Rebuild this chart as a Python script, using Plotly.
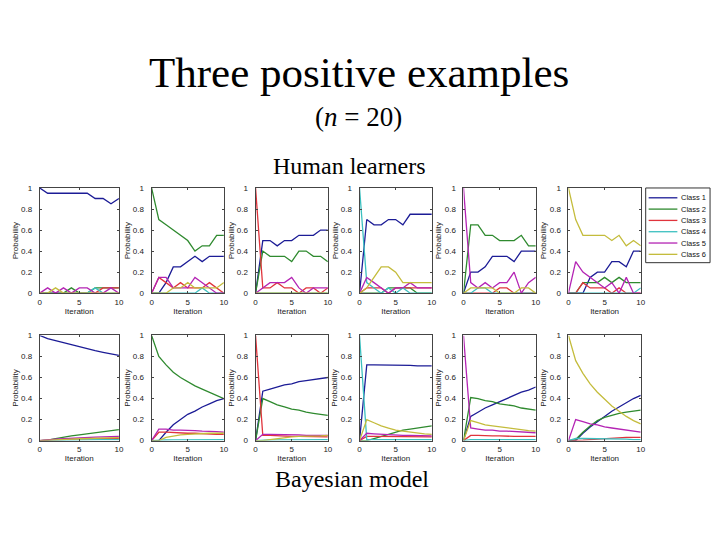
import plotly.graph_objects as go

iterations = list(range(11))
class_names = ["Class 1", "Class 2", "Class 3", "Class 4", "Class 5", "Class 6"]
class_colors = ["#1c1c96", "#2f8a2f", "#e0343c", "#3cc0c0", "#b424b4", "#c4bc3c"]

# Human learners (rows: Class 1..6)
human_1 = [
    [1, 0.95, 0.95, 0.95, 0.95, 0.95, 0.95, 0.9, 0.9, 0.85, 0.9],
    [0, 0, 0, 0, 0.05, 0, 0, 0.05, 0.05, 0.05, 0.05],
    [0, 0, 0, 0, 0, 0, 0, 0, 0.05, 0.05, 0.05],
    [0, 0, 0, 0, 0, 0, 0, 0.05, 0, 0, 0],
    [0, 0.05, 0, 0.05, 0, 0.05, 0.05, 0, 0, 0.05, 0],
    [0, 0, 0.05, 0, 0, 0, 0, 0, 0, 0, 0],
]
human_2 = [
    [0, 0, 0.1, 0.25, 0.25, 0.3, 0.35, 0.3, 0.35, 0.35, 0.35],
    [1, 0.7, 0.65, 0.6, 0.55, 0.5, 0.4, 0.45, 0.45, 0.55, 0.55],
    [0, 0.15, 0.1, 0.05, 0.1, 0.05, 0.05, 0.05, 0.1, 0.05, 0],
    [0, 0, 0, 0, 0, 0, 0, 0.05, 0, 0, 0],
    [0, 0.15, 0.15, 0.05, 0.05, 0.05, 0.15, 0.1, 0.05, 0, 0],
    [0, 0, 0, 0.05, 0.05, 0.1, 0.05, 0.05, 0.05, 0.05, 0.1],
]
human_3 = [
    [0, 0.5, 0.5, 0.45, 0.5, 0.5, 0.55, 0.55, 0.55, 0.6, 0.6],
    [0, 0.4, 0.35, 0.35, 0.35, 0.3, 0.4, 0.4, 0.35, 0.35, 0.3],
    [1, 0.05, 0.05, 0.1, 0.05, 0.05, 0, 0.05, 0.05, 0, 0.05],
    [0, 0, 0, 0, 0, 0, 0, 0, 0, 0, 0],
    [0, 0.05, 0.1, 0.1, 0.1, 0.15, 0.05, 0, 0.05, 0.05, 0.05],
    [0, 0, 0, 0, 0, 0, 0, 0, 0, 0, 0],
]
human_4 = [
    [0, 0.7, 0.65, 0.65, 0.7, 0.7, 0.65, 0.75, 0.75, 0.75, 0.75],
    [0, 0, 0, 0, 0.05, 0.05, 0.05, 0.05, 0, 0, 0],
    [0, 0.05, 0.05, 0.05, 0, 0.05, 0.05, 0.05, 0.05, 0.05, 0.05],
    [1, 0.1, 0.05, 0, 0.05, 0, 0.05, 0, 0, 0, 0],
    [0, 0.15, 0.1, 0.05, 0, 0.05, 0.05, 0.1, 0.05, 0.05, 0.05],
    [0, 0.05, 0.15, 0.25, 0.25, 0.2, 0.1, 0.1, 0.1, 0.1, 0.1],
]
human_5 = [
    [0, 0.2, 0.2, 0.25, 0.35, 0.35, 0.35, 0.3, 0.4, 0.4, 0.4],
    [0, 0.65, 0.65, 0.55, 0.55, 0.5, 0.5, 0.5, 0.55, 0.45, 0.45],
    [0, 0, 0, 0, 0, 0.05, 0.05, 0, 0, 0, 0],
    [0, 0, 0.05, 0.05, 0, 0, 0, 0, 0, 0, 0],
    [1, 0.1, 0.05, 0.1, 0.05, 0.1, 0.1, 0.2, 0, 0.1, 0.15],
    [0, 0.05, 0.05, 0.05, 0.05, 0, 0, 0, 0.05, 0.05, 0],
]
human_6 = [
    [0, 0, 0, 0.15, 0.2, 0.2, 0.3, 0.3, 0.25, 0.4, 0.4],
    [0, 0, 0.1, 0.1, 0.1, 0.15, 0.1, 0.15, 0.1, 0.1, 0.1],
    [0, 0, 0.1, 0.05, 0.05, 0.05, 0, 0.05, 0, 0, 0],
    [0, 0, 0, 0, 0, 0, 0, 0, 0, 0, 0.05],
    [0, 0.3, 0.2, 0.15, 0.1, 0.05, 0.1, 0, 0.15, 0, 0],
    [1, 0.7, 0.55, 0.55, 0.55, 0.55, 0.5, 0.55, 0.45, 0.5, 0.45],
]

# Bayesian model (rows: Class 1..6)
model_1 = [
    [1, 0.97, 0.95, 0.93, 0.91, 0.89, 0.87, 0.855, 0.84, 0.825, 0.81],
    [0, 0.005, 0.02, 0.035, 0.045, 0.055, 0.065, 0.075, 0.085, 0.095, 0.105],
    [0, 0.005, 0.01, 0.012, 0.014, 0.016, 0.018, 0.02, 0.02, 0.02, 0.02],
    [0, 0.002, 0.004, 0.005, 0.006, 0.007, 0.008, 0.008, 0.009, 0.009, 0.01],
    [0, 0.01, 0.015, 0.02, 0.025, 0.028, 0.03, 0.033, 0.035, 0.037, 0.04],
    [0, 0.005, 0.01, 0.012, 0.015, 0.018, 0.02, 0.022, 0.024, 0.026, 0.028],
]
model_2 = [
    [0, 0, 0.08, 0.15, 0.2, 0.25, 0.28, 0.32, 0.35, 0.38, 0.4],
    [1, 0.8, 0.72, 0.65, 0.6, 0.56, 0.52, 0.49, 0.46, 0.43, 0.4],
    [0, 0.08, 0.08, 0.075, 0.07, 0.07, 0.07, 0.065, 0.065, 0.06, 0.06],
    [0, 0.005, 0.006, 0.007, 0.008, 0.009, 0.01, 0.01, 0.01, 0.01, 0.01],
    [0, 0.11, 0.11, 0.1, 0.1, 0.1, 0.095, 0.09, 0.09, 0.085, 0.08],
    [0, 0, 0.03, 0.045, 0.055, 0.06, 0.065, 0.065, 0.07, 0.07, 0.07],
]
model_3 = [
    [0, 0.47, 0.49, 0.51, 0.53, 0.54, 0.56, 0.57, 0.58, 0.59, 0.6],
    [0, 0.4, 0.37, 0.34, 0.32, 0.3, 0.29, 0.27, 0.26, 0.25, 0.24],
    [1, 0.05, 0.05, 0.045, 0.045, 0.04, 0.04, 0.04, 0.035, 0.035, 0.035],
    [0, 0.005, 0.006, 0.007, 0.008, 0.009, 0.01, 0.01, 0.01, 0.01, 0.01],
    [0, 0.06, 0.06, 0.06, 0.055, 0.055, 0.055, 0.05, 0.05, 0.05, 0.05],
    [0, 0, 0.01, 0.02, 0.03, 0.035, 0.04, 0.04, 0.045, 0.045, 0.05],
]
model_4 = [
    [0, 0.72, 0.72, 0.72, 0.72, 0.715, 0.715, 0.715, 0.71, 0.71, 0.71],
    [0, 0, 0.02, 0.04, 0.06, 0.08, 0.1, 0.11, 0.12, 0.13, 0.14],
    [0, 0.04, 0.04, 0.04, 0.04, 0.038, 0.037, 0.036, 0.036, 0.035, 0.035],
    [1, 0.01, 0.01, 0.01, 0.01, 0.01, 0.01, 0.01, 0.01, 0.01, 0.01],
    [0, 0.07, 0.065, 0.06, 0.06, 0.055, 0.05, 0.05, 0.05, 0.045, 0.045],
    [0, 0.2, 0.17, 0.14, 0.12, 0.1, 0.09, 0.08, 0.07, 0.065, 0.06],
]
model_5 = [
    [0, 0.23, 0.27, 0.31, 0.34, 0.37, 0.4, 0.43, 0.46, 0.48, 0.51],
    [0, 0.41, 0.4, 0.38, 0.37, 0.35, 0.34, 0.33, 0.31, 0.3, 0.29],
    [0, 0.05, 0.05, 0.045, 0.045, 0.045, 0.04, 0.04, 0.04, 0.04, 0.04],
    [0, 0.01, 0.01, 0.01, 0.01, 0.01, 0.01, 0.01, 0.01, 0.01, 0.01],
    [1, 0.12, 0.11, 0.1, 0.1, 0.09, 0.09, 0.085, 0.08, 0.08, 0.075],
    [0, 0.19, 0.17, 0.15, 0.14, 0.13, 0.12, 0.11, 0.1, 0.095, 0.09],
]
model_6 = [
    [0, 0, 0.07, 0.13, 0.18, 0.23, 0.28, 0.32, 0.36, 0.4, 0.43],
    [0, 0.01, 0.08, 0.14, 0.19, 0.22, 0.24, 0.26, 0.27, 0.28, 0.29],
    [0, 0, 0.005, 0.01, 0.015, 0.02, 0.025, 0.03, 0.03, 0.03, 0.03],
    [0, 0.02, 0.02, 0.02, 0.02, 0.02, 0.02, 0.015, 0.015, 0.01, 0.01],
    [0, 0.2, 0.18, 0.16, 0.15, 0.13, 0.12, 0.11, 0.1, 0.09, 0.08],
    [1, 0.76, 0.64, 0.54, 0.46, 0.39, 0.33, 0.28, 0.23, 0.19, 0.16],
]

panels = [human_1, human_2, human_3, human_4, human_5, human_6,
          model_1, model_2, model_3, model_4, model_5, model_6]

# The page body adds an 8px offset; the figure is sized to fill the rest.
OFF = 8
W, H = 720 - OFF, 540 - OFF


def px_x(x):
    return (x - OFF) / W


def px_y(y):
    return 1 - (y - OFF) / H


col_px = [(38, 118), (151, 224), (256, 329), (361, 434), (466, 539), (572, 645)]
row_px = [(187, 294), (337, 444)]

fig = go.Figure()
tick_font = dict(family="Arial, Liberation Sans, sans-serif", size=8, color="#222")

for i, data in enumerate(panels):
    r, c = divmod(i, 6)
    n = i + 1
    xa = "x" if n == 1 else f"x{n}"
    ya = "y" if n == 1 else f"y{n}"
    for k, series in enumerate(data):
        fig.add_trace(go.Scatter(
            x=iterations, y=series, mode="lines",
            line=dict(color=class_colors[k], width=1.3),
            name=class_names[k], showlegend=False,
            xaxis=xa, yaxis=ya, hoverinfo="skip",
        ))
    x0, x1 = col_px[c]
    y0, y1 = row_px[r]
    axis_common = dict(
        showgrid=False, zeroline=False, showline=True, linecolor="#444",
        linewidth=1, mirror="ticks", ticks="inside", ticklen=2,
        tickcolor="#444", tickfont=tick_font,
    )
    fig.layout[("xaxis" if n == 1 else f"xaxis{n}")] = dict(
        domain=[px_x(x0), px_x(x1)], range=[0, 10], tickvals=[0, 5, 10],
        anchor=ya, ticklabelstandoff=1,
        title=dict(text="Iteration", font=tick_font, standoff=1),
        **axis_common,
    )
    fig.layout[("yaxis" if n == 1 else f"yaxis{n}")] = dict(
        domain=[px_y(y1), px_y(y0)], range=[0, 1],
        tickvals=[0, 0.2, 0.4, 0.6, 0.8, 1],
        ticktext=["0", "0.2", "0.4", "0.6", "0.8", "1"],
        anchor=xa, ticklabelstandoff=5,
        title=dict(text="Probability", font=tick_font, standoff=1),
        **axis_common,
    )

serif = "Liberation Serif, Times New Roman, serif"
annotations = [
    dict(text="Three positive examples", x=px_x(360), y=px_y(70), font=dict(family=serif, size=43, color="black")),
    dict(text="(<i>n</i> = 20)", x=px_x(360), y=px_y(115), font=dict(family=serif, size=27, color="black")),
    dict(text="Human learners", x=px_x(351), y=px_y(165), font=dict(family=serif, size=24, color="black")),
    dict(text="Bayesian model", x=px_x(353), y=px_y(483), font=dict(family=serif, size=24, color="black")),
]
for a in annotations:
    a.update(xref="paper", yref="paper", showarrow=False, xanchor="center", yanchor="middle")

# Hand-drawn legend box (compact, as in the reference)
shapes = [dict(type="rect", xref="paper", yref="paper",
               x0=px_x(650), x1=px_x(715), y0=px_y(263), y1=px_y(187),
               line=dict(color="#333", width=1), fillcolor="white", layer="above")]
legend_y = [197, 208.5, 220, 231.5, 243, 254.5]
for k, name in enumerate(class_names):
    yy = px_y(legend_y[k])
    shapes.append(dict(type="line", xref="paper", yref="paper",
                       x0=px_x(653), x1=px_x(682), y0=yy, y1=yy,
                       line=dict(color=class_colors[k], width=1.3), layer="above"))
    annotations.append(dict(text=name, xref="paper", yref="paper", x=px_x(684), y=yy,
                            xanchor="left", yanchor="middle", showarrow=False,
                            font=dict(family="Arial, Liberation Sans, sans-serif", size=7.5, color="#111")))

fig.update_layout(
    width=W, height=H, margin=dict(l=0, r=0, t=0, b=0),
    paper_bgcolor="white", plot_bgcolor="white",
    annotations=annotations, shapes=shapes,
    showlegend=False,
)

fig.write_html("out.html")
